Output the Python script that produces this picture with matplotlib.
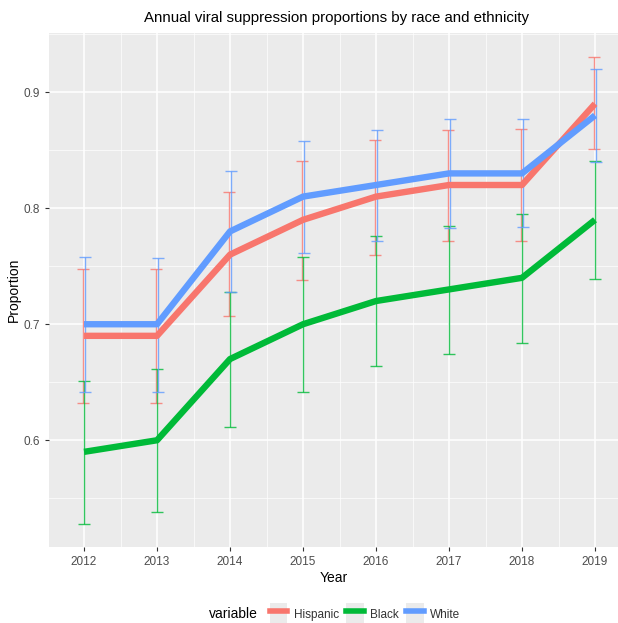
import matplotlib.pyplot as plt
from matplotlib.lines import Line2D
from matplotlib.patches import Rectangle
from matplotlib.legend_handler import HandlerTuple
from matplotlib.ticker import MultipleLocator

plt.rcParams['font.family'] = ['Liberation Sans', 'DejaVu Sans']

years = [2012, 2013, 2014, 2015, 2016, 2017, 2018, 2019]

hispanic = [0.69, 0.69, 0.76, 0.79, 0.81, 0.82, 0.82, 0.89]
hispanic_lo = [0.632, 0.632, 0.707, 0.738, 0.760, 0.772, 0.772, 0.851]
hispanic_hi = [0.748, 0.748, 0.814, 0.841, 0.859, 0.867, 0.868, 0.930]

black = [0.59, 0.60, 0.67, 0.70, 0.72, 0.73, 0.74, 0.79]
black_lo = [0.528, 0.538, 0.611, 0.642, 0.664, 0.674, 0.684, 0.739]
black_hi = [0.651, 0.661, 0.728, 0.758, 0.776, 0.785, 0.795, 0.841]

white = [0.70, 0.70, 0.78, 0.81, 0.82, 0.83, 0.83, 0.88]
white_lo = [0.642, 0.642, 0.728, 0.761, 0.772, 0.783, 0.784, 0.840]
white_hi = [0.758, 0.757, 0.832, 0.858, 0.867, 0.877, 0.877, 0.920]

names = ['Hispanic', 'Black', 'White']
colors = ['#F8766D', '#00BA38', '#619CFF']
series = [(hispanic, hispanic_lo, hispanic_hi, -0.01),
          (black, black_lo, black_hi, 0.0),
          (white, white_lo, white_hi, 0.015)]

fig = plt.figure(figsize=(6.18, 6.23), dpi=100)
ax = fig.add_axes([0.0793, 0.122, 0.9207, 0.825])
ax.set_facecolor('#EBEBEB')

# error bars first, then thick lines
for (v, lo, hi, off), c in zip(series, colors):
    xs = [y + off for y in years]
    err = [[a - b for a, b in zip(v, lo)], [b - a for a, b in zip(v, hi)]]
    ax.errorbar(xs, v, yerr=err, fmt='none', ecolor=c, elinewidth=1.0,
                capsize=4.3, capthick=1.0, alpha=0.8, zorder=3)
for (v, lo, hi, off), c in zip(series, colors):
    ax.plot(years, v, color=c, lw=4.6, solid_capstyle='butt', zorder=4)

ax.set_xlim(2011.52, 2019.315)
ax.set_ylim(0.508, 0.951)
ax.set_xticks(years)
ax.xaxis.set_minor_locator(MultipleLocator(0.5))
ax.yaxis.set_minor_locator(MultipleLocator(0.05))
ax.set_yticks([0.6, 0.7, 0.8, 0.9])
ax.set_yticklabels(['0.6', '0.7', '0.8', '0.9'])
ax.grid(which='major', color='white', lw=1.1, zorder=0)
ax.grid(which='minor', color='white', lw=0.5, zorder=0)
ax.set_axisbelow(True)
for s in ax.spines.values():
    s.set_visible(False)
ax.tick_params(which='major', colors='#333333', labelcolor='#4D4D4D',
               labelsize=8.5, length=3, width=0.8)
ax.tick_params(which='minor', length=0)

ax.set_xlabel('Year', fontsize=10, color='black', labelpad=2)
ax.set_ylabel('Proportion', fontsize=10, color='black', labelpad=2)
fig.text(0.545, 0.971, 'Annual viral suppression proportions by race and ethnicity',
         ha='center', va='center', fontsize=10.8)

handles = []
for c in colors:
    bg = Rectangle((0, 0), 1, 1, facecolor='#EBEBEB', edgecolor='none')
    ln = Line2D([0], [0], color=c, lw=4)
    handles.append((bg, ln))
fig.text(0.418, 0.0144, 'variable', ha='right', va='center', fontsize=10)
fig.legend(handles, names, handler_map={tuple: HandlerTuple(ndivide=1)},
           loc='center left', bbox_to_anchor=(0.425, 0.0144), ncol=3,
           frameon=False, fontsize=8.5, handlelength=1.5, handleheight=2.4,
           handletextpad=0.55, columnspacing=0.6, labelcolor='#333333',
           borderpad=0.1)

fig.savefig('out.png', dpi=100)
